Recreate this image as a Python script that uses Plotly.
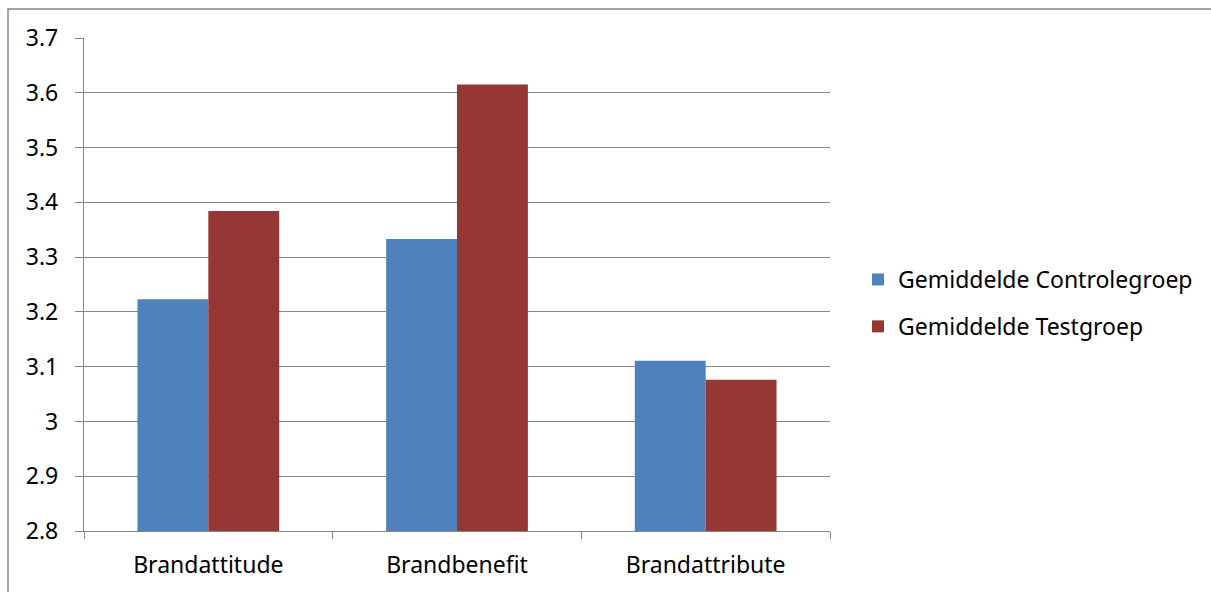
import plotly.graph_objects as go

categories = ["Brandattitude", "Brandbenefit", "Brandattribute"]
controle = [3.223, 3.333, 3.111]
test = [3.384, 3.615, 3.076]
series_names = ["Gemiddelde Controlegroep", "Gemiddelde Testgroep"]
y_ticks = [2.8, 2.9, 3.0, 3.1, 3.2, 3.3, 3.4, 3.5, 3.6, 3.7]
y_ticktext = ["2.8", "2.9", "3", "3.1", "3.2", "3.3", "3.4", "3.5", "3.6", "3.7"]

FONT = "Noto Sans"
GRID = "#868686"
FS = 23

fig = go.Figure()
fig.add_trace(go.Bar(x=categories, y=controle, name=series_names[0],
                     marker=dict(color="#4F81BD", line=dict(width=0)),
                     legendgroup="a"))
fig.add_trace(go.Bar(x=categories, y=test, name=series_names[1],
                     marker=dict(color="#953735", line=dict(width=0)),
                     legendgroup="b"))

W, H = 1211, 592
L, R, T, B = 84, 830, 38, 531
pw, ph = R - L, B - T

def px2x(px):
    return (px - L) / pw

def py2y(py):
    return (B - py) / ph

fig.update_layout(
    width=W, height=H,
    margin=dict(l=L, r=W - R, t=T, b=H - B),
    paper_bgcolor="white", plot_bgcolor="white",
    barmode="group", bargap=0.43, bargroupgap=0,
    font=dict(family=FONT, size=FS, color="#000000"),
    showlegend=True,
    legend=dict(x=px2x(858), y=py2y(258), xanchor="left", yanchor="top",
                font=dict(family=FONT, size=FS, color="#000000"),
                tracegroupgap=14, itemwidth=30, bgcolor="rgba(0,0,0,0)"),
    xaxis=dict(type="category", showgrid=False, showline=True, linecolor=GRID,
               linewidth=1, ticks="outside", tickson="boundaries", ticklen=7,
               tickcolor=GRID, tickwidth=1, tickfont=dict(family=FONT, size=FS),
               ticklabelstandoff=13),
    yaxis=dict(range=[2.8, 3.7], tickvals=y_ticks, ticktext=y_ticktext,
               showgrid=True, gridcolor=GRID, gridwidth=1.3, showline=True,
               linecolor=GRID, linewidth=1.3, ticks="outside", ticklen=8,
               tickcolor=GRID, tickwidth=1.3, zeroline=False,
               tickfont=dict(family=FONT, size=FS), ticklabelstandoff=12),
    shapes=[dict(type="rect", xref="paper", yref="paper",
                 x0=px2x(8), x1=px2x(1240), y0=py2y(620), y1=py2y(9),
                 line=dict(color=GRID, width=1.5), fillcolor="rgba(0,0,0,0)",
                 layer="below")],
)

fig.write_html("out.html")
